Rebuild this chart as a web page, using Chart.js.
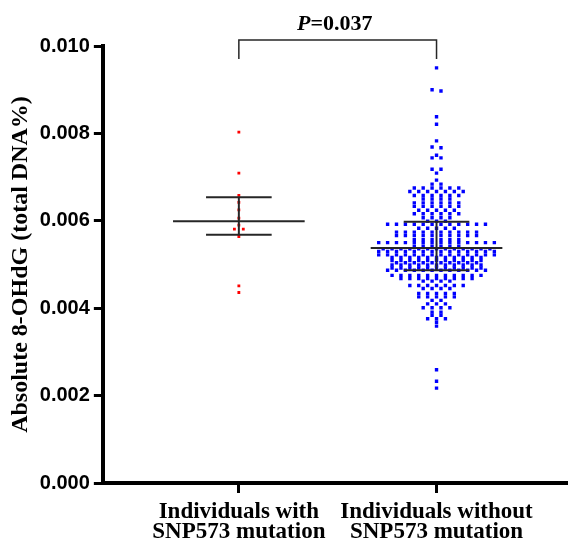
<!DOCTYPE html>
<html>
<head>
<meta charset="utf-8">
<script src="https://cdn.jsdelivr.net/npm/chart.js@4.4.1/dist/chart.umd.min.js"></script>
<style>
  body { margin: 0; background: #fff; }
  #wrap { width: 571px; height: 549px; }
</style>
</head>
<body>
<div id="wrap"><canvas id="dotChart" width="571" height="549"></canvas></div>
<script>
// group labels (x axis)
var groupLabels = [
    ['Individuals with', 'SNP573 mutation'],
    ['Individuals without', 'SNP573 mutation']
];

// y axis ticks
var yTicks = [0, 0.002, 0.004, 0.006, 0.008, 0.010];

// individual values
var withMutation = [
    0.00803, 0.00709, 0.00658, 0.00642, 0.00625, 0.00606,
    0.00590, 0.00581, 0.00581, 0.00564, 0.00451, 0.00436
];

var withoutMutation = [
    0.00950,
    0.00900, 0.00897,
    0.00838, 0.00821, 0.00783,
    0.00769, 0.00767,
    0.00750,
    0.00744, 0.00744,
    0.00718, 0.00718,
    0.00709, 0.00693,
    0.00684, 0.00684,
    0.00675, 0.00675, 0.00675, 0.00675, 0.00675, 0.00675,
    0.00667, 0.00667, 0.00667, 0.00667, 0.00667, 0.00667, 0.00667,
    0.00658, 0.00658, 0.00658, 0.00658, 0.00658, 0.00658,
    0.00650, 0.00650, 0.00650, 0.00650,
    0.00641, 0.00641, 0.00641, 0.00641, 0.00641, 0.00641,
    0.00633, 0.00633, 0.00633, 0.00633, 0.00633, 0.00633,
    0.00624, 0.00624, 0.00624, 0.00624, 0.00624,
    0.00616, 0.00616, 0.00616, 0.00616, 0.00616, 0.00616,
    0.00607, 0.00607, 0.00607, 0.00607,
    0.00599, 0.00599, 0.00599,
    0.00592, 0.00592, 0.00592, 0.00592, 0.00592, 0.00592,
    0.00592, 0.00592, 0.00592, 0.00592, 0.00592, 0.00592,
    0.00583, 0.00583, 0.00583, 0.00583, 0.00583,
    0.00574, 0.00574, 0.00574, 0.00574, 0.00574,
    0.00574, 0.00574, 0.00574, 0.00574, 0.00574,
    0.00566, 0.00566, 0.00566, 0.00566, 0.00566,
    0.00566, 0.00566, 0.00566, 0.00566, 0.00566,
    0.00557, 0.00557, 0.00557, 0.00557, 0.00557, 0.00557,
    0.00550, 0.00550, 0.00550, 0.00550, 0.00550, 0.00550, 0.00550,
    0.00550, 0.00550, 0.00550, 0.00550, 0.00550, 0.00550, 0.00550,
    0.00542, 0.00542, 0.00542, 0.00542, 0.00542, 0.00542,
    0.00536, 0.00536, 0.00536, 0.00536, 0.00536, 0.00536, 0.00536,
    0.00536, 0.00536, 0.00536, 0.00536, 0.00536, 0.00536,
    0.00530, 0.00530, 0.00530, 0.00530, 0.00530, 0.00530, 0.00530,
    0.00530, 0.00530, 0.00530, 0.00530, 0.00530, 0.00530, 0.00530,
    0.00522, 0.00522, 0.00522, 0.00522, 0.00522, 0.00522, 0.00522,
    0.00522, 0.00522, 0.00522, 0.00522, 0.00522, 0.00522, 0.00522,
    0.00516, 0.00516, 0.00516, 0.00516, 0.00516, 0.00516,
    0.00516, 0.00516, 0.00516, 0.00516, 0.00516,
    0.00509, 0.00509, 0.00509, 0.00509, 0.00509, 0.00509,
    0.00509, 0.00509, 0.00509, 0.00509, 0.00509,
    0.00504, 0.00504, 0.00504, 0.00504, 0.00504,
    0.00504, 0.00504, 0.00504, 0.00504, 0.00504,
    0.00499, 0.00499, 0.00499, 0.00499, 0.00499, 0.00499,
    0.00499, 0.00499, 0.00499, 0.00499, 0.00499,
    0.00492, 0.00492, 0.00492, 0.00492, 0.00492, 0.00492,
    0.00492, 0.00492, 0.00492, 0.00492, 0.00492,
    0.00487, 0.00487, 0.00487, 0.00487, 0.00487, 0.00487,
    0.00487, 0.00487, 0.00487, 0.00487, 0.00487, 0.00487,
    0.00475, 0.00475, 0.00475, 0.00475, 0.00475, 0.00475,
    0.00475, 0.00475, 0.00475, 0.00475, 0.00475,
    0.00468, 0.00468, 0.00468, 0.00468, 0.00468,
    0.00468, 0.00468, 0.00468, 0.00468,
    0.00462, 0.00462, 0.00462, 0.00462,
    0.00452, 0.00452, 0.00452, 0.00452, 0.00452, 0.00452, 0.00452,
    0.00445, 0.00445, 0.00445, 0.00445,
    0.00434, 0.00434, 0.00434, 0.00434, 0.00434,
    0.00426, 0.00426, 0.00426, 0.00426, 0.00426,
    0.00418, 0.00418,
    0.00410, 0.00410, 0.00410,
    0.00401, 0.00401, 0.00401, 0.00401,
    0.00391, 0.00391,
    0.00384, 0.00384,
    0.00376, 0.00376, 0.00376,
    0.00368, 0.00359,
    0.00259, 0.00233, 0.00217
];

// median and interquartile range per group
var medians = [0.00599, 0.00538];
var q1s = [0.00568, 0.00487];
var q3s = [0.00654, 0.00598];

var pLabel = '0.037';

var DOT_GAP = 0.045;    // horizontal step between dots in one row (x units)
var ROW_TOL = 0.00004;  // values closer than this share a row

// simple dot-plot layout: dots in the same row are spread around the centre
function swarm(values, center) {
    var sorted = values.slice().sort(function (a, b) { return b - a; });
    var pts = [];
    var i = 0;
    while (i < sorted.length) {
        var j = i;
        while (j < sorted.length && sorted[i] - sorted[j] <= ROW_TOL) j++;
        var n = j - i;
        for (var k = 0; k < n; k++) {
            pts.push({ x: center + (k - (n - 1) / 2) * DOT_GAP, y: sorted[i + k] });
        }
        i = j;
    }
    return pts;
}

function segment(x1, y1, x2, y2, w) {
    return {
        data: [{ x: x1, y: y1 }, { x: x2, y: y2 }],
        showLine: true,
        borderColor: '#262626',
        borderWidth: w,
        pointRadius: 0,
        order: 0
    };
}

var datasets = [
    {
        label: groupLabels[0].join(' '),
        data: swarm(withMutation, 1),
        pointStyle: 'rect',
        pointRadius: 2.0,
        backgroundColor: '#ff0000',
        borderWidth: 0,
        order: 1
    },
    {
        label: groupLabels[1].join(' '),
        data: swarm(withoutMutation, 2),
        pointStyle: 'rect',
        pointRadius: 2.4,
        backgroundColor: '#0000ff',
        borderWidth: 0,
        order: 1
    }
];

medians.forEach(function (m, idx) {
    var c = idx + 1;
    datasets.push(segment(c - 0.333, m, c + 0.333, m, 2));
    datasets.push(segment(c - 0.166, q3s[idx], c + 0.166, q3s[idx], 2));
    datasets.push(segment(c - 0.166, q1s[idx], c + 0.166, q1s[idx], 2));
    datasets.push(segment(c, q1s[idx], c, q3s[idx], 2));
});

// significance bracket with P value above the plot
var bracketPlugin = {
    id: 'bracket',
    afterDraw: function (chart) {
        var ctx = chart.ctx;
        var x1 = chart.scales.x.getPixelForValue(1);
        var x2 = chart.scales.x.getPixelForValue(2);
        var top = chart.chartArea.top - 6;
        ctx.save();
        ctx.strokeStyle = '#262626';
        ctx.lineWidth = 1.5;
        ctx.beginPath();
        ctx.moveTo(x1, top + 19);
        ctx.lineTo(x1, top);
        ctx.lineTo(x2, top);
        ctx.lineTo(x2, top + 19);
        ctx.stroke();

        var italic = 'italic bold 22px "Liberation Serif"';
        var bold = 'bold 22px "Liberation Serif"';
        ctx.font = italic;
        var wP = ctx.measureText('P').width;
        ctx.font = bold;
        var wRest = ctx.measureText('=' + pLabel).width;
        var start = (x1 + x2) / 2 - 3 - (wP + wRest) / 2;
        ctx.fillStyle = '#000';
        ctx.textBaseline = 'alphabetic';
        ctx.textAlign = 'left';
        ctx.font = italic;
        ctx.fillText('P', start, top - 10);
        ctx.font = bold;
        ctx.fillText('=' + pLabel, start + wP, top - 10);
        ctx.restore();
    }
};

var ctx = document.getElementById('dotChart').getContext('2d');
var theChart = new Chart(ctx, {
    type: 'scatter',
    data: { datasets: datasets },
    options: {
        responsive: false,
        animation: false,
        layout: {
            padding: { top: 46, right: 0, left: 0, bottom: 3 }
        },
        plugins: {
            legend: { display: false },
            tooltip: { enabled: false }
        },
        scales: {
            x: {
                type: 'linear',
                min: 0.312,
                max: 2.66,
                afterBuildTicks: function (scale) {
                    scale.ticks = [{ value: 1 }, { value: 2 }];
                },
                afterFit: function (scale) {
                    scale.height = 63;
                },
                ticks: {
                    color: '#000',
                    padding: 9,
                    maxRotation: 0,
                    autoSkip: false,
                    font: { family: '"Liberation Serif"', size: 23, weight: 'bold', lineHeight: 0.86 },
                    callback: function (v) { return groupLabels[v - 1]; }
                },
                grid: {
                    drawOnChartArea: false,
                    drawTicks: true,
                    tickLength: 10,
                    tickWidth: 3,
                    tickColor: '#000'
                },
                border: { display: true, color: '#000', width: 4 }
            },
            y: {
                min: 0,
                max: 0.010,
                afterBuildTicks: function (scale) {
                    scale.ticks = yTicks.map(function (v) { return { value: v }; });
                },
                ticks: {
                    color: '#000',
                    padding: 4,
                    font: { family: '"Liberation Sans"', size: 20, weight: 'bold' },
                    callback: function (v) { return v.toFixed(3); }
                },
                grid: {
                    drawOnChartArea: false,
                    drawTicks: true,
                    tickLength: 9,
                    tickWidth: 3,
                    tickColor: '#000'
                },
                border: { display: true, color: '#000', width: 4 },
                title: {
                    display: true,
                    text: 'Absolute 8-OHdG (total DNA%)',
                    color: '#000',
                    font: { family: '"Liberation Serif"', size: 24, weight: 'bold', lineHeight: 1.2 },
                    padding: { top: 6, bottom: 1 }
                }
            }
        }
    },
    plugins: [bracketPlugin]
});
</script>
</body>
</html>
